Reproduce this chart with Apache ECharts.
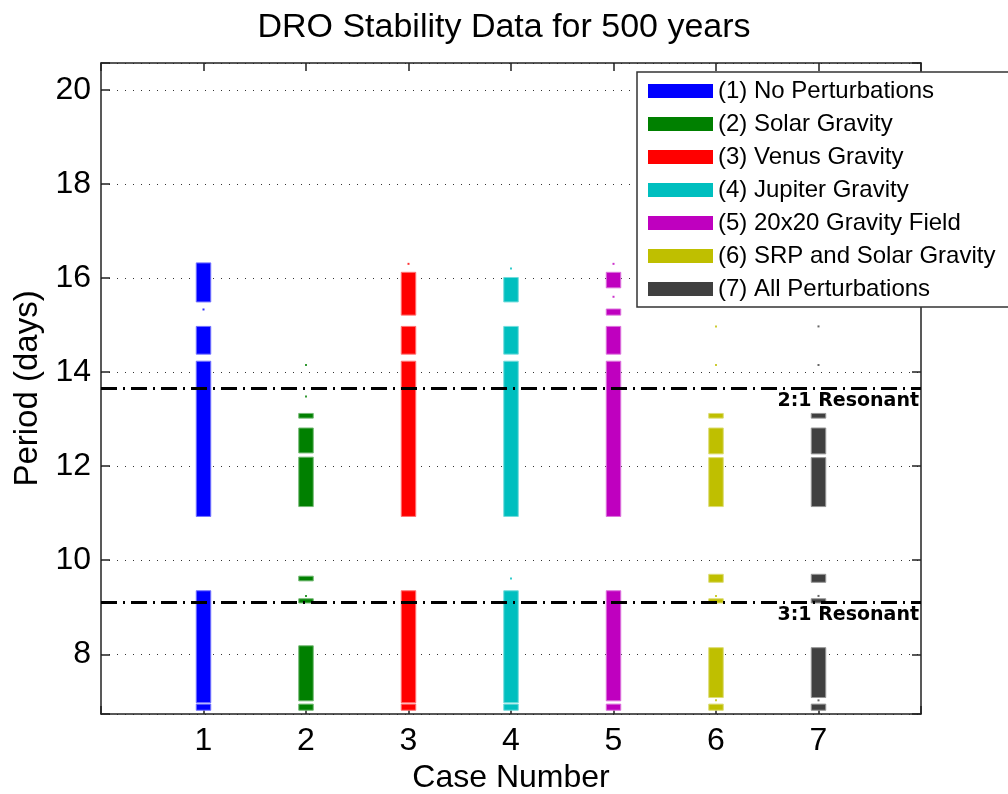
<!DOCTYPE html>
<html>
<head>
<meta charset="utf-8">
<script src="https://cdn.jsdelivr.net/npm/echarts@6/dist/echarts.min.js"></script>
<style>
  html, body { margin: 0; padding: 0; background: #fff; }
  #chart { width: 1008px; height: 794px; }
</style>
</head>
<body>
<div id="chart"></div>
<script>
// Case numbers on the x axis and their legend names / colours
const CASES = [1, 2, 3, 4, 5, 6, 7];
const CASE_NAMES = [
  '(1) No Perturbations',
  '(2) Solar Gravity',
  '(3) Venus Gravity',
  '(4) Jupiter Gravity',
  '(5) 20x20 Gravity Field',
  '(6) SRP and Solar Gravity',
  '(7) All Perturbations'
];
const CASE_COLORS = ['#0000FF', '#008000', '#FF0000', '#00BFBF', '#BF00BF', '#BFBF00', '#404040'];

// Stable period ranges [low, high] in days for each case
const STABLE_1 = [[6.81, 6.94], [6.97, 9.35], [10.93, 14.23], [14.38, 14.97], [15.49, 16.32]];
const STABLE_2 = [[6.81, 6.94], [7.01, 8.18], [9.09, 9.18], [9.56, 9.66], [11.14, 12.19], [12.28, 12.81], [13.02, 13.12]];
const STABLE_3 = [[6.81, 6.94], [6.97, 9.35], [10.93, 14.23], [14.38, 14.97], [15.21, 16.12]];
const STABLE_4 = [[6.81, 6.94], [6.97, 9.35], [10.93, 14.23], [14.38, 14.97], [15.49, 16.01]];
const STABLE_5 = [[6.81, 6.94], [7.01, 9.35], [10.93, 14.23], [14.38, 14.97], [15.21, 15.34], [15.79, 16.12]];
const STABLE_6 = [[6.81, 6.94], [7.08, 8.14], [9.09, 9.18], [9.53, 9.70], [11.14, 12.18], [12.26, 12.81], [13.02, 13.12]];
const STABLE_7 = [[6.81, 6.94], [7.08, 8.14], [9.09, 9.18], [9.53, 9.70], [11.14, 12.18], [12.26, 12.81], [13.02, 13.12]];

// Isolated stable orbits (single periods, days)
const ISOLATED_1 = [15.33];
const ISOLATED_2 = [9.24, 13.48, 14.15];
const ISOLATED_3 = [16.30];
const ISOLATED_4 = [9.61, 16.20];
const ISOLATED_5 = [15.60, 16.30];
const ISOLATED_6 = [7.02, 9.24, 14.15, 14.97];
const ISOLATED_7 = [7.02, 9.24, 14.15, 14.97];

// Lunar resonance periods (days)
const RES_2_1 = 13.66;
const RES_3_1 = 9.107;

// Axis ranges and tick labels
const X_TICKS = [1, 2, 3, 4, 5, 6, 7];
const Y_TICKS = [8, 10, 12, 14, 16, 18, 20];
const X_RANGE = [0, 8];
const Y_RANGE = [6.73, 20.57];

const STABLE = [STABLE_1, STABLE_2, STABLE_3, STABLE_4, STABLE_5, STABLE_6, STABLE_7];
const ISOLATED = [ISOLATED_1, ISOLATED_2, ISOLATED_3, ISOLATED_4, ISOLATED_5, ISOLATED_6, ISOLATED_7];

const FONT = '"Liberation Sans", Arial, sans-serif';
const AXIS_COLOR = '#222';

function lighten(hex, amt) {
  const n = parseInt(hex.slice(1), 16);
  const r = (n >> 16) & 255, g = (n >> 8) & 255, b = n & 255;
  const f = c => Math.round(c + (255 - c) * amt);
  return 'rgb(' + f(r) + ',' + f(g) + ',' + f(b) + ')';
}

const series = [];
CASES.forEach((c, i) => {
  const color = CASE_COLORS[i];
  const edge = lighten(color, 0.45);
  series.push({
    type: 'custom',
    name: CASE_NAMES[i],
    itemStyle: { color: color },
    encode: { x: 0, y: [1, 2] },
    data: STABLE[i].map(s => [c, s[0], s[1]]),
    renderItem: function (params, api) {
      const x = api.value(0);
      const top = api.coord([x, api.value(2)]);
      const bot = api.coord([x, api.value(1)]);
      const w = 14.5;
      return {
        type: 'rect',
        shape: { x: top[0] - w / 2, y: top[1], width: w, height: bot[1] - top[1] },
        style: { fill: color, stroke: edge, lineWidth: 1 }
      };
    },
    z: 3
  });
  series.push({
    type: 'scatter',
    name: CASE_NAMES[i],
    symbol: 'rect',
    symbolSize: 2,
    itemStyle: { color: color },
    data: ISOLATED[i].map(v => [c, v]),
    silent: true,
    z: 3
  });
});

function resonanceSeries(value, text) {
  return {
    type: 'line',
    data: [],
    silent: true,
    markLine: {
      silent: true,
      symbol: 'none',
      lineStyle: { color: '#000', width: 3, type: [16, 6, 2, 6] },
      label: {
        show: true,
        position: 'insideEndBottom',
        distance: [2, 4],
        formatter: text,
        color: '#000',
        fontFamily: '"DejaVu Sans", Verdana, sans-serif',
        fontWeight: 'bold',
        fontSize: 19
      },
      data: [{ yAxis: value }]
    },
    z: 4
  };
}
series.push(resonanceSeries(RES_2_1, '2:1 Resonant'));
series.push(resonanceSeries(RES_3_1, '3:1 Resonant'));

const yLabel = v => (Y_TICKS.indexOf(Math.round(v * 1000) / 1000) >= 0 ? String(v) : '');
const xLabel = v => (X_TICKS.indexOf(v) >= 0 ? String(v) : '');

const axisLine = { show: true, onZero: false, lineStyle: { color: AXIS_COLOR, width: 1.5 } };

const option = {
  backgroundColor: '#fff',
  animation: false,
  title: {
    text: 'DRO Stability Data for 500 years',
    left: 'center',
    top: 6,
    textStyle: { fontFamily: FONT, fontSize: 34, fontWeight: 'normal', color: '#000' }
  },
  legend: {
    orient: 'vertical',
    left: 637,
    top: 72,
    padding: [7, 30, 6, 11],
    backgroundColor: '#fff',
    borderColor: '#333',
    borderWidth: 1.5,
    borderRadius: 0,
    itemWidth: 65,
    itemHeight: 14,
    itemGap: 9,
    icon: 'rect',
    data: CASE_NAMES,
    selectedMode: false,
    textStyle: { fontFamily: FONT, fontSize: 24, color: '#000', lineHeight: 23, padding: [0, 0, 0, 0] }
  },
  grid: { left: 101, right: 87, top: 63, bottom: 80, containLabel: false, outerBoundsMode: 'none' },
  xAxis: [
    {
      type: 'value',
      min: X_RANGE[0], max: X_RANGE[1], interval: 1,
      name: 'Case Number',
      nameLocation: 'middle',
      nameGap: 40,
      nameTextStyle: { fontFamily: FONT, fontSize: 32, color: '#000' },
      axisLine: axisLine,
      axisTick: { show: true, inside: true, length: 8, lineStyle: { color: AXIS_COLOR, width: 1.5 } },
      axisLabel: { formatter: xLabel, fontFamily: FONT, fontSize: 32, color: '#000', margin: 11 },
      splitLine: { show: false }
    },
    {
      type: 'value', position: 'top',
      min: X_RANGE[0], max: X_RANGE[1], interval: 1,
      axisLine: axisLine,
      axisTick: { show: true, inside: true, length: 8, lineStyle: { color: AXIS_COLOR, width: 1.5 } },
      axisLabel: { show: false },
      splitLine: { show: false }
    }
  ],
  yAxis: [
    {
      type: 'value',
      min: Y_RANGE[0], max: Y_RANGE[1], minInterval: 2, maxInterval: 2,
      name: 'Period (days)',
      nameLocation: 'middle',
      nameGap: 56,
      nameTextStyle: { fontFamily: FONT, fontSize: 33, color: '#000' },
      axisLine: axisLine,
      axisTick: { show: true, inside: true, length: 9, lineStyle: { color: AXIS_COLOR, width: 1.5 } },
      axisLabel: { formatter: yLabel, fontFamily: FONT, fontSize: 32, color: '#000', margin: 10 },
      splitLine: { show: true, lineStyle: { color: '#333', width: 1, type: [1, 7] } }
    },
    {
      type: 'value', position: 'right',
      min: Y_RANGE[0], max: Y_RANGE[1], minInterval: 2, maxInterval: 2,
      axisLine: axisLine,
      axisTick: { show: true, inside: true, length: 9, lineStyle: { color: AXIS_COLOR, width: 1.5 } },
      axisLabel: { show: false },
      splitLine: { show: false }
    }
  ],
  series: series
};

const chart = echarts.init(document.getElementById('chart'), null, { renderer: 'canvas' });
chart.setOption(option);
</script>
</body>
</html>
